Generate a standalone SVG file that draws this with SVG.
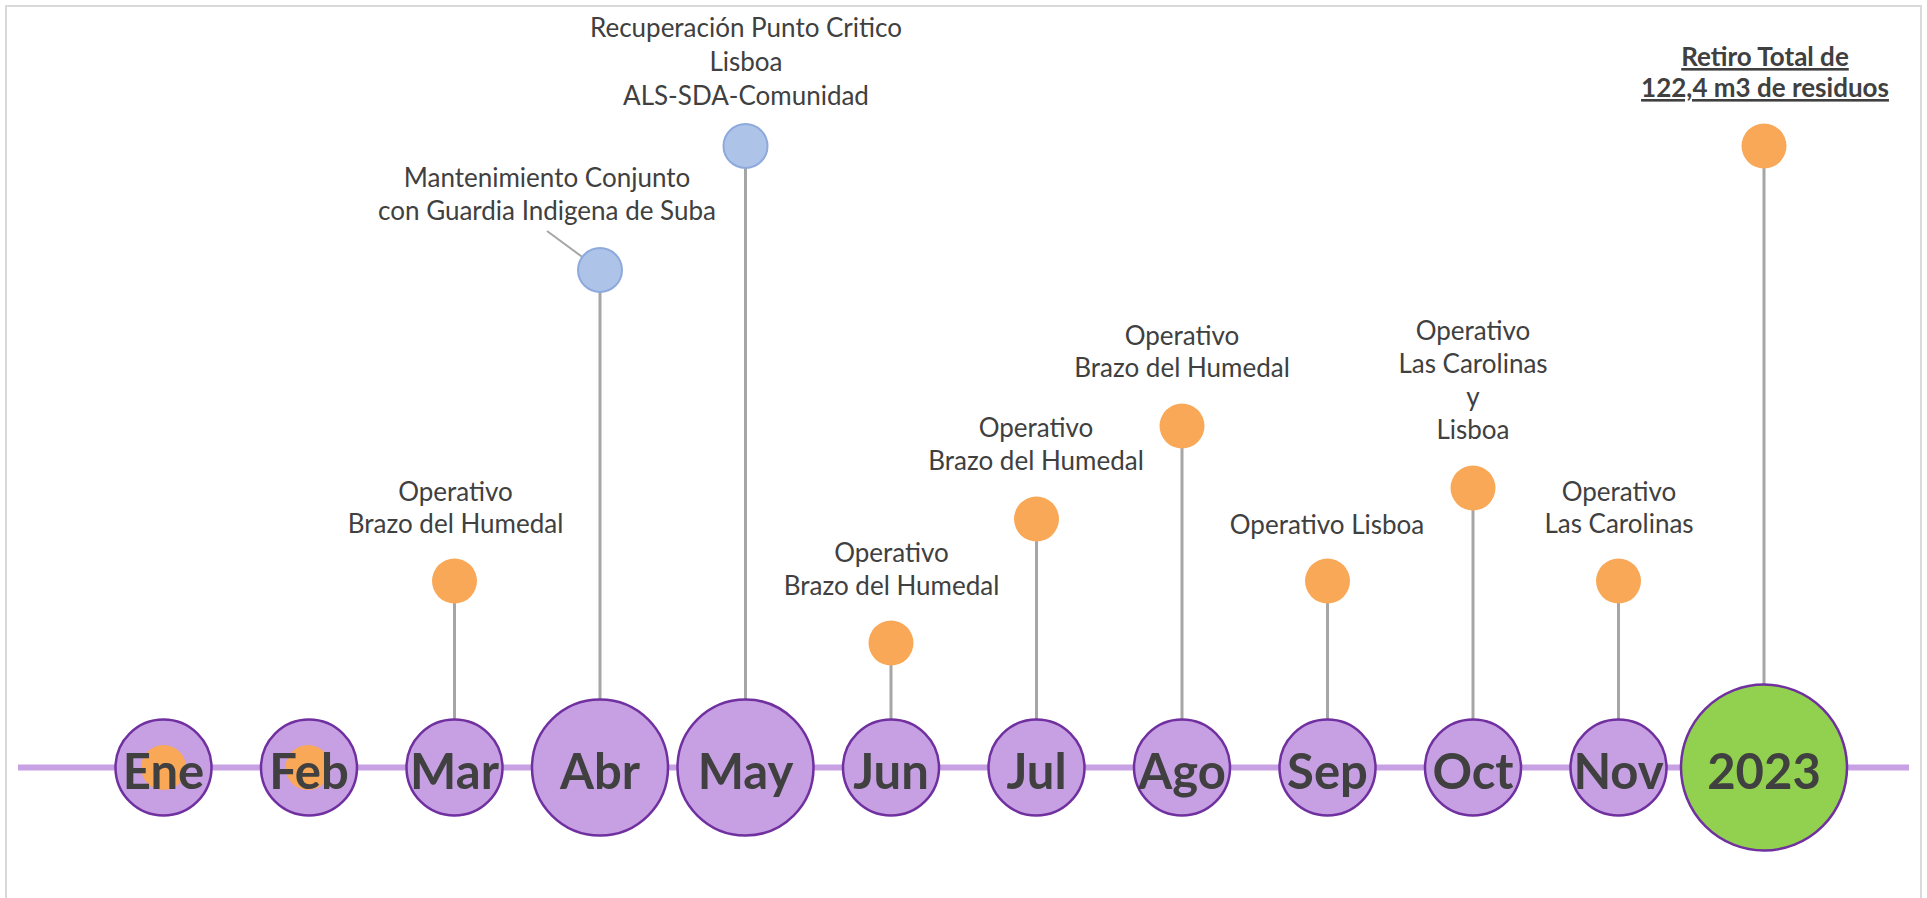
<svg xmlns="http://www.w3.org/2000/svg" width="1927" height="898" viewBox="0 0 1927 898">
<style>
.frame{fill:#ffffff;stroke:#d9d9d9;stroke-width:2}
.axis{stroke:#c7a1e3;stroke-width:6;fill:none}
.stem{stroke:#a6a6a6;stroke-width:3;fill:none}
.lead{stroke:#a6a6a6;stroke-width:2;fill:none}
.month{fill:#c6a0e2;stroke:#7030a0;stroke-width:2.5}
.year{fill:#92d050;stroke:#7030a0;stroke-width:2.5}
.pin{fill:#f8a857}
.pinb{fill:#adc3e8;stroke:#8eaadc;stroke-width:2}
.mt{font-family:Lato,"Open Sans",sans-serif;font-weight:bold;font-size:49px;fill:#404040;text-anchor:middle}
.lb{font-family:Lato,"Open Sans",sans-serif;font-size:26px;fill:#404040;text-anchor:middle}
.lbb{font-family:Lato,"Open Sans",sans-serif;font-weight:bold;font-size:26px;fill:#404040;text-anchor:middle;text-decoration:underline}
</style>
<rect class="frame" x="6" y="6" width="1915" height="910"/>
<line class="axis" x1="18" y1="767.5" x2="1909" y2="767.5"/>
<g id="connectors">
<line class="stem" x1="454.5" y1="581" x2="454.5" y2="720"/>
<line class="stem" x1="600" y1="270" x2="600" y2="700"/>
<line class="stem" x1="745.5" y1="146" x2="745.5" y2="700"/>
<line class="stem" x1="891" y1="643" x2="891" y2="720"/>
<line class="stem" x1="1036.5" y1="519" x2="1036.5" y2="720"/>
<line class="stem" x1="1182" y1="426" x2="1182" y2="720"/>
<line class="stem" x1="1327.5" y1="581" x2="1327.5" y2="720"/>
<line class="stem" x1="1473" y1="488" x2="1473" y2="720"/>
<line class="stem" x1="1618.5" y1="581" x2="1618.5" y2="720"/>
<line class="stem" x1="1764" y1="146" x2="1764" y2="685"/>
<line class="lead" x1="547" y1="231" x2="600" y2="270"/>
</g>
<g id="ene"><circle class="month" cx="163.5" cy="767.5" r="48"/><circle class="pin" cx="163.5" cy="767.5" r="22.5"/><text class="mt" x="163.5" y="789">Ene</text></g>
<g id="feb"><circle class="month" cx="309" cy="767.5" r="48"/><circle class="pin" cx="308" cy="767.5" r="22.5"/><text class="mt" x="309" y="789">Feb</text></g>
<g id="mar"><circle class="month" cx="454.5" cy="767.5" r="48"/><text class="mt" x="454.5" y="789">Mar</text></g>
<g id="abr"><circle class="month" cx="600" cy="767.5" r="68"/><text class="mt" x="600" y="789">Abr</text></g>
<g id="may"><circle class="month" cx="745.5" cy="767.5" r="68"/><text class="mt" x="745.5" y="789">May</text></g>
<g id="jun"><circle class="month" cx="891" cy="767.5" r="48"/><text class="mt" x="891" y="789">Jun</text></g>
<g id="jul"><circle class="month" cx="1036.5" cy="767.5" r="48"/><text class="mt" x="1036.5" y="789">Jul</text></g>
<g id="ago"><circle class="month" cx="1182" cy="767.5" r="48"/><text class="mt" x="1182" y="789">Ago</text></g>
<g id="sep"><circle class="month" cx="1327.5" cy="767.5" r="48"/><text class="mt" x="1327.5" y="789">Sep</text></g>
<g id="oct"><circle class="month" cx="1473" cy="767.5" r="48"/><text class="mt" x="1473" y="789">Oct</text></g>
<g id="nov"><circle class="month" cx="1618.5" cy="767.5" r="48"/><text class="mt" x="1618.5" y="789">Nov</text></g>
<g id="y2023"><circle class="year" cx="1764" cy="767.5" r="83"/><text class="mt" x="1764" y="789">2023</text></g>
<g id="ev-mar"><circle class="pin" cx="454.5" cy="581" r="22.5"/><text class="lb" x="455.5" y="501">Operativo</text><text class="lb" x="455.5" y="533">Brazo del Humedal</text></g>
<g id="ev-abr"><circle class="pinb" cx="600" cy="270" r="22"/><text class="lb" x="547" y="187">Mantenimiento Conjunto</text><text class="lb" x="547" y="220">con Guardia Indigena de Suba</text></g>
<g id="ev-may"><circle class="pinb" cx="745.5" cy="146" r="22"/><text class="lb" x="746" y="37">Recuperación Punto Critico</text><text class="lb" x="746" y="71">Lisboa</text><text class="lb" x="746" y="105">ALS-SDA-Comunidad</text></g>
<g id="ev-jun"><circle class="pin" cx="891" cy="643" r="22.5"/><text class="lb" x="891.5" y="562">Operativo</text><text class="lb" x="891.5" y="595">Brazo del Humedal</text></g>
<g id="ev-jul"><circle class="pin" cx="1036.5" cy="519" r="22.5"/><text class="lb" x="1036" y="437">Operativo</text><text class="lb" x="1036" y="470">Brazo del Humedal</text></g>
<g id="ev-ago"><circle class="pin" cx="1182" cy="426" r="22.5"/><text class="lb" x="1182" y="345">Operativo</text><text class="lb" x="1182" y="377">Brazo del Humedal</text></g>
<g id="ev-sep"><circle class="pin" cx="1327.5" cy="581" r="22.5"/><text class="lb" x="1327" y="534">Operativo Lisboa</text></g>
<g id="ev-oct"><circle class="pin" cx="1473" cy="488" r="22.5"/><text class="lb" x="1473" y="340">Operativo</text><text class="lb" x="1473" y="373">Las Carolinas</text><text class="lb" x="1473" y="406">y</text><text class="lb" x="1473" y="439">Lisboa</text></g>
<g id="ev-nov"><circle class="pin" cx="1618.5" cy="581" r="22.5"/><text class="lb" x="1619" y="501">Operativo</text><text class="lb" x="1619" y="533">Las Carolinas</text></g>
<g id="ev-2023"><circle class="pin" cx="1764" cy="146" r="22.5"/><text class="lbb" x="1765" y="66">Retiro Total de</text><text class="lbb" x="1765" y="97">122,4 m3 de residuos</text></g>
</svg>
